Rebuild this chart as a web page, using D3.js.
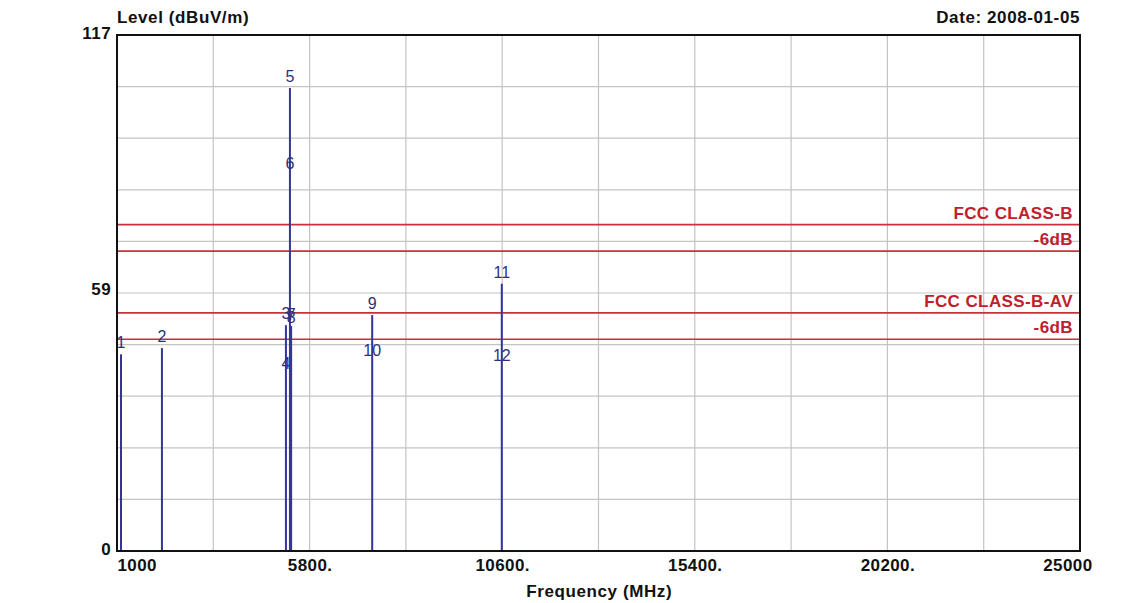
<!DOCTYPE html>
<html>
<head>
<meta charset="utf-8">
<script src="https://cdn.jsdelivr.net/npm/d3@7"></script>
<style>
  body { margin: 0; background: #fff; }
  text { font-family: "Liberation Sans", Arial, sans-serif; }
  .axis path, .axis line { display: none; }
  .axis text { font-size: 17px; font-weight: bold; fill: #111; letter-spacing: 0.4px; }
</style>
</head>
<body>
<div id="chart-area"></div>
<script>

// Data
let freqTicks = [1000, 5800, 10600, 15400, 20200, 25000];
let freqTickLabels = ["1000", "5800.", "10600.", "15400.", "20200.", "25000"];
let levelTicks = [0, 59, 117];

// markers: odd = peak, even = average (drawn on the same spike)
let markerNo    = [1, 2, 3, 4, 5, 6, 7, 8, 9, 10, 11, 12];
let markerFreq  = [1100, 2120, 5210, 5210, 5310, 5310, 5340, 5340, 7360, 7360, 10590, 10590];
let markerLevel = [44.6, 46.0, 51.2, 39.9, 105.0, 85.2, 51.0, 50.3, 53.5, 42.8, 60.6, 41.7];

let limitNames  = ["FCC CLASS-B", "-6dB", "FCC CLASS-B-AV", "-6dB"];
let limitLevels = [74, 68, 54, 48];

// SVG drawing area
let margin = {top: 35, right: 62, bottom: 52, left: 117};
let width = 1142 - margin.left - margin.right,
    height = 603 - margin.top - margin.bottom;

let svg = d3.select("#chart-area").append("svg")
    .attr("width", 1142)
    .attr("height", 603)
    .append("g")
    .attr("transform", "translate(" + margin.left + "," + margin.top + ")");

// Scales
let x = d3.scaleLinear().domain([1000, 25000]).range([0, width]);
let y = d3.scaleLinear().domain([0, 117]).range([height, 0]);

// grid
let xGrid = d3.range(1000, 25001, 2400);
let yGrid = d3.range(0, 11).map(i => i * 11.7);

svg.append("g").selectAll("line").data(xGrid).enter().append("line")
  .attr("x1", d => x(d)).attr("x2", d => x(d))
  .attr("y1", 0).attr("y2", height)
  .attr("stroke", "#c4c4c4").attr("stroke-width", 1.2);

svg.append("g").selectAll("line").data(yGrid).enter().append("line")
  .attr("x1", 0).attr("x2", width)
  .attr("y1", d => y(d)).attr("y2", d => y(d))
  .attr("stroke", "#c4c4c4").attr("stroke-width", 1.2);

// limit lines
let limits = limitNames.map((n, i) => ({name: n, level: limitLevels[i]}));
let limitG = svg.append("g");
limitG.selectAll("line").data(limits).enter().append("line")
  .attr("x1", 0).attr("x2", width)
  .attr("y1", d => y(d.level)).attr("y2", d => y(d.level))
  .attr("stroke", "#c8303c").attr("stroke-width", 1.6);
limitG.selectAll("text").data(limits).enter().append("text")
  .attr("x", width - 7)
  .attr("y", d => y(d.level) - 6)
  .attr("text-anchor", "end")
  .attr("fill", "#c0202c")
  .style("font-size", "17px")
  .style("font-weight", "bold")
  .style("letter-spacing", "0.4px")
  .text(d => d.name);

// spikes + marker labels
let markers = markerNo.map((n, i) => ({no: n, freq: markerFreq[i], level: markerLevel[i]}));
let peaks = markers.filter(d => d.no % 2 == 1 || d.no == 2);

svg.append("g").selectAll("line").data(peaks).enter().append("line")
  .attr("x1", d => x(d.freq)).attr("x2", d => x(d.freq))
  .attr("y1", height).attr("y2", d => y(d.level))
  .attr("stroke", "#34349a").attr("stroke-width", 2);

svg.append("g").selectAll("text").data(markers).enter().append("text")
  .attr("x", d => x(d.freq))
  .attr("y", d => y(d.level) - 6)
  .attr("text-anchor", "middle")
  .attr("fill", "#30307a")
  .style("font-size", "16px")
  .text(d => d.no);

// border
svg.append("rect")
  .attr("x", 0).attr("y", 0)
  .attr("width", width).attr("height", height)
  .attr("fill", "none")
  .attr("stroke", "#111").attr("stroke-width", 2);

// Axes
let xAxis = d3.axisBottom(x)
  .tickValues(freqTicks)
  .tickSize(0)
  .tickPadding(8)
  .tickFormat((d, i) => freqTickLabels[i]);
let yAxis = d3.axisLeft(y)
  .tickValues(levelTicks)
  .tickSize(0)
  .tickPadding(6);

let xGroup = svg.append("g")
  .attr("class", "axis x-axis")
  .attr("transform", "translate(0," + height + ")")
  .call(xAxis);
xGroup.selectAll("text")
  .attr("text-anchor", (d, i) => i == 0 ? "start" : (i == freqTicks.length - 1 ? "end" : "middle"))
  .attr("dx", (d, i) => i == freqTicks.length - 1 ? 12 : 0);

let yGroup = svg.append("g")
  .attr("class", "axis y-axis")
  .call(yAxis);
yGroup.selectAll("text").attr("dy", "0.2em");

// titles
svg.append("text")
  .attr("x", 0).attr("y", -12)
  .style("font-size", "17px").style("font-weight", "bold")
  .style("letter-spacing", "0.6px").attr("fill", "#111")
  .text("Level (dBuV/m)");

svg.append("text")
  .attr("x", width).attr("y", -12)
  .attr("text-anchor", "end")
  .style("font-size", "17px").style("font-weight", "bold")
  .style("letter-spacing", "0.6px").attr("fill", "#111")
  .text("Date: 2008-01-05");

svg.append("text")
  .attr("x", x(10600) + 97).attr("y", height + 46)
  .attr("text-anchor", "middle")
  .style("font-size", "17px").style("font-weight", "bold")
  .style("letter-spacing", "0.6px").attr("fill", "#111")
  .text("Frequency (MHz)");

</script>
</body>
</html>
